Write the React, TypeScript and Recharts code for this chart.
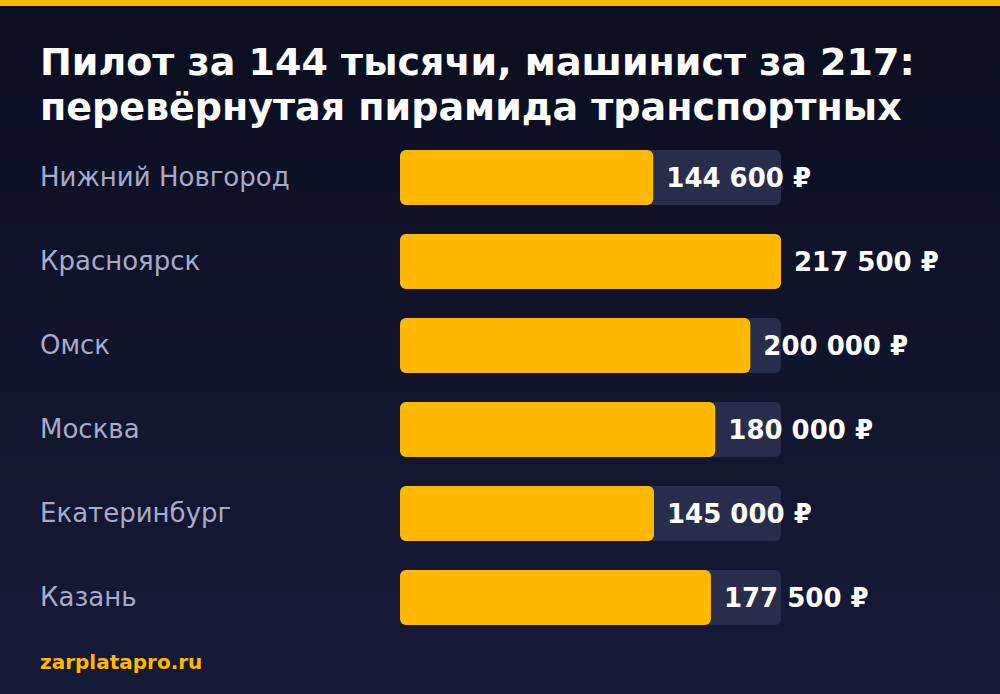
import React from "react";
import { BarChart, Bar, XAxis, YAxis, LabelList } from "recharts";

const titleLines = ["Пилот за 144 тысячи, машинист за 217:", "перевёрнутая пирамида транспортных"];
const cities = ["Нижний Новгород", "Красноярск", "Омск", "Москва", "Екатеринбург", "Казань"];
const salaries = [144600, 217500, 200000, 180000, 145000, 177500];
const sourceLabel = "zarplatapro.ru";

const data = cities.map((city, i) => ({ city, value: salaries[i] }));
const maxValue = Math.max(...salaries);

const FONT = "'DejaVu Sans', sans-serif";

const fmt = (v: number) => v.toString().replace(/\B(?=(\d{3})+(?!\d))/g, " ") + " ₽";

const CityTick = (props: any) => {
  const { y, payload } = props;
  return (
    <text x={40} y={y} dy={9} textAnchor="start" fill="#a8aac8" fontSize={26} fontFamily={FONT}>
      {payload.value}
    </text>
  );
};

const ValueLabel = (props: any) => {
  const { x, y, width, height, value } = props;
  return (
    <text
      x={Number(x) + Number(width) + 13}
      y={Number(y) + Number(height) / 2}
      dy={9}
      textAnchor="start"
      fill="#ffffff"
      fontSize={26}
      fontWeight="bold"
      fontFamily={FONT}
    >
      {fmt(Number(value))}
    </text>
  );
};

export default function App() {
  return (
    <div
      style={{
        position: "absolute",
        left: 0,
        top: 0,
        width: 1000,
        height: 694,
        overflow: "hidden",
        background: "linear-gradient(180deg, #0b0e20 0%, #161a37 100%)",
        fontFamily: FONT,
      }}
    >
      <div style={{ position: "absolute", left: 0, top: 0, width: 1000, height: 6, background: "#ffb800" }} />
      <div
        style={{
          position: "absolute",
          left: 40,
          top: 40,
          color: "#ffffff",
          fontWeight: "bold",
          fontSize: 38,
          lineHeight: "45px",
          whiteSpace: "nowrap",
        }}
      >
        {titleLines.map((l) => (
          <div key={l}>{l}</div>
        ))}
      </div>
      <div style={{ position: "absolute", left: 0, top: 0 }}>
        <BarChart
          width={1000}
          height={694}
          data={data}
          layout="vertical"
          margin={{ top: 135, right: 219, bottom: 55, left: 0 }}
        >
          <XAxis type="number" domain={[0, maxValue]} hide />
          <YAxis
            type="category"
            dataKey="city"
            width={400}
            axisLine={false}
            tickLine={false}
            tick={<CityTick />}
          />
          <Bar
            dataKey="value"
            fill="#ffb900"
            barSize={55}
            radius={6}
            background={{ fill: "#282d4c", radius: 6 } as any}
            isAnimationActive={false}
          >
            <LabelList dataKey="value" content={<ValueLabel />} />
          </Bar>
        </BarChart>
      </div>
      <div
        style={{
          position: "absolute",
          left: 40,
          top: 650,
          color: "#ffb800",
          fontWeight: "bold",
          fontSize: 20,
          whiteSpace: "nowrap",
        }}
      >
        {sourceLabel}
      </div>
    </div>
  );
}
